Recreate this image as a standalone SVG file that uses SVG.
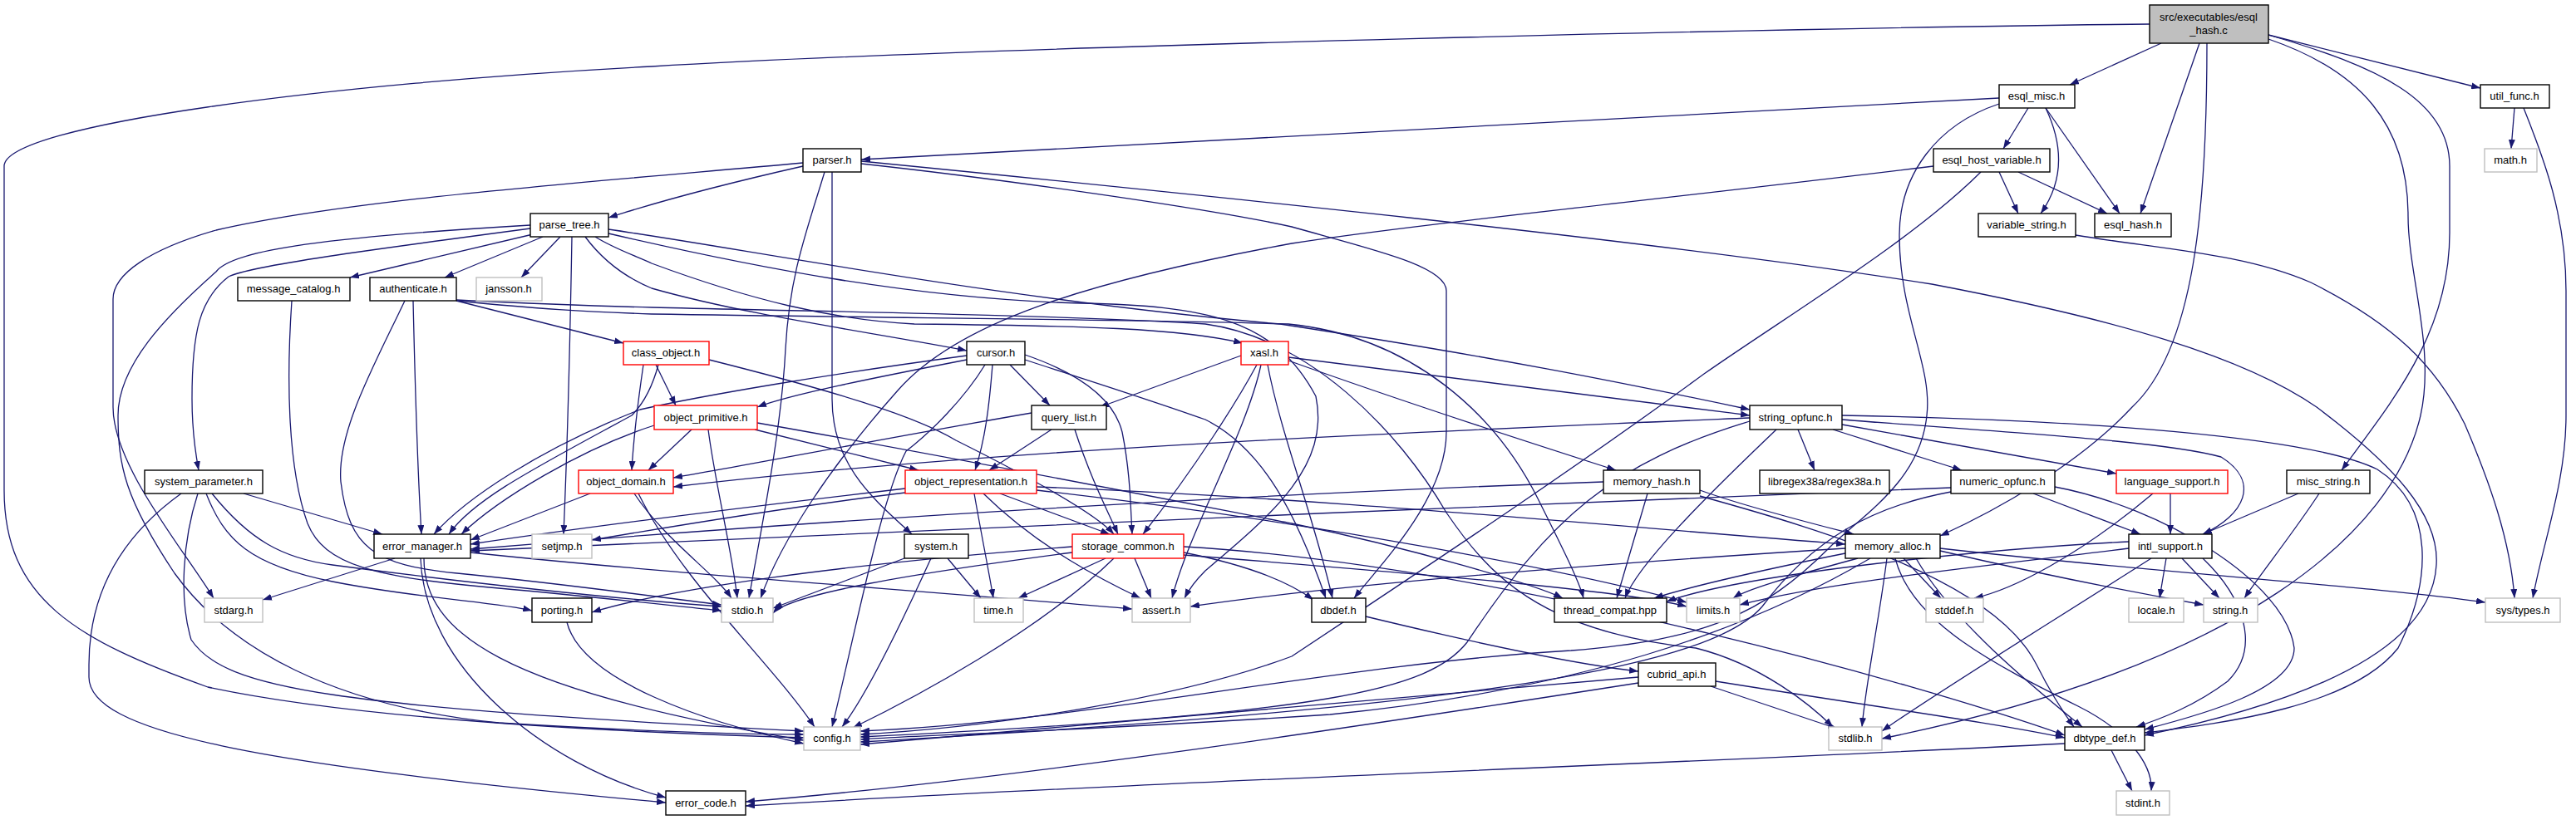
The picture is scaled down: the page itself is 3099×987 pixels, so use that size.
<svg xmlns="http://www.w3.org/2000/svg" width="3099" height="987" viewBox="0 0 3099 987">
<defs>
<marker id="ah" markerWidth="11" markerHeight="8" refX="11" refY="4" orient="auto" markerUnits="userSpaceOnUse"><path d="M0,0 L11,4 L0,8 z" fill="#191970"/></marker>
<style>
.e{fill:none;stroke:#191970;stroke-width:1.3;marker-end:url(#ah)}
.n rect{fill:#fff;stroke:#000;stroke-width:1.4}
.g rect{fill:#fff;stroke:#bfbfbf;stroke-width:1.4}
.r rect{fill:#fff;stroke:#ff0000;stroke-width:1.4}
.root rect{fill:#bfbfbf;stroke:#000;stroke-width:1.4}
text{font-family:"Liberation Sans",Arial,sans-serif;font-size:13px;text-anchor:middle;fill:#000}
</style>
</defs>
<rect width="3099" height="987" fill="#fff"/>
<g id="edges">
<path class="e" d="M2586,29 C2200,33 1200,55 784,80 C400,100 5,150 5,200 L5,590 C5,720 90,770 250,827 C450,870 800,883 967,888"/>
<path class="e" d="M2600,52 L2490,102"/>
<path class="e" d="M2646,52 L2575,257"/>
<path class="e" d="M2655,52 C2655,250 2640,420 2565,490 C2500,560 2400,615 2334,645"/>
<path class="e" d="M2729,42 L2984,106"/>
<path class="e" d="M2729,42 C2860,80 2947,120 2947,200 L2947,280 C2947,400 2880,480 2817,566"/>
<path class="e" d="M2729,47 C2840,85 2897,150 2897,260 C2897,330 2930,420 2912,500 C2880,640 2700,800 2264,889"/>
<path class="e" d="M2405,118 L1036,192"/>
<path class="e" d="M2440,130 L2410,179"/>
<path class="e" d="M2461,130 C2480,170 2485,215 2455,257"/>
<path class="e" d="M2461,130 L2550,257"/>
<path class="e" d="M2405,125 C2330,150 2285,210 2285,283 C2285,380 2325,440 2318,500 C2310,580 2240,620 2200,660 C2120,740 2050,770 1890,783 C1600,800 1300,870 1035,880"/>
<path class="e" d="M3025,130 L3021,179"/>
<path class="e" d="M3036,130 C3060,190 3087,260 3087,350 L3087,500 C3087,580 3060,650 3047,720"/>
<path class="e" d="M2405,207 L2428,257"/>
<path class="e" d="M2428,207 L2535,257"/>
<path class="e" d="M2383,207 C2300,290 2150,380 2050,450 C1900,560 1750,660 1554,790 C1420,840 1200,875 1035,884"/>
<path class="e" d="M2326,200 C2000,240 1700,270 1554,293 C1300,340 1150,390 1080,470 C1000,560 940,650 915,720"/>
<path class="e" d="M2497,283 C2600,300 2700,305 2780,340 C2880,390 2930,440 2965,510 C2995,580 3020,650 3025,720"/>
<path class="e" d="M966,200 C900,215 800,240 732,262"/>
<path class="e" d="M966,196 C700,220 420,240 260,277 C180,300 136,330 136,360 L136,490 C136,560 220,660 257,720"/>
<path class="e" d="M992,207 C970,280 950,330 945,420 C940,520 915,640 901,720"/>
<path class="e" d="M1001,207 L1001,480 C1001,560 1050,600 1097,643"/>
<path class="e" d="M1036,197 C1200,215 1450,250 1554,273 C1650,300 1740,320 1740,350 L1740,520 C1740,600 1660,680 1629,720"/>
<path class="e" d="M1036,194 C1400,230 2000,290 2324,342 C2550,385 2700,430 2787,490 C2880,560 2935,620 2931,680 C2925,790 2750,850 2580,885"/>
<path class="e" d="M641,282 L421,334"/>
<path class="e" d="M653,285 L535,334"/>
<path class="e" d="M674,285 L627,334"/>
<path class="e" d="M688,285 C686,400 682,550 678,643"/>
<path class="e" d="M638,275 C450,300 300,320 275,333 C240,360 231,400 231,480 C231,520 236,550 239,566"/>
<path class="e" d="M638,271 C400,285 280,300 260,327 C200,380 142,440 142,500 C142,560 150,600 210,690 C275,780 400,850 600,870 C800,882 900,884 967,884"/>
<path class="e" d="M704,285 C730,320 760,337 784,347 C900,380 1050,400 1163,422"/>
<path class="e" d="M716,285 C740,300 770,310 784,317 C900,360 1000,385 1100,390 C1300,392 1420,395 1495,413"/>
<path class="e" d="M732,276 C900,300 1200,360 1540,390 C1800,430 1950,460 2105,493"/>
<path class="e" d="M732,281 C900,320 1100,360 1300,365 C1450,368 1533,383 1583,477 C1600,560 1533,617 1450,687 C1440,697 1430,710 1425,720"/>
<path class="e" d="M351,362 C345,450 345,560 370,630 C390,680 450,695 600,708 C700,717 800,728 868,735"/>
<path class="e" d="M549,362 L750,413"/>
<path class="e" d="M497,362 C499,450 502,560 507,643"/>
<path class="e" d="M487,362 C450,440 405,520 410,580 C420,660 450,680 550,690 C700,705 800,720 868,728"/>
<path class="e" d="M549,361 C650,366 700,368 784,370 C1000,375 1300,380 1450,390 C1574,407 1682,517 1740,617 C1790,690 1850,760 2040,780 C2120,800 2180,850 2205,875"/>
<path class="e" d="M549,362 C650,372 700,375 784,378 C1100,383 1400,385 1550,390 C1700,405 1800,500 1850,600 C1880,660 1900,700 1905,720"/>
<path class="e" d="M774,439 C768,480 762,530 760,566"/>
<path class="e" d="M789,439 L813,488"/>
<path class="e" d="M853,433 C1000,470 1100,500 1150,530 C1250,580 1320,620 1340,643"/>
<path class="e" d="M792,439 C785,465 775,485 760,500 C650,560 570,600 540,643"/>
<path class="e" d="M1163,433 C1050,455 950,475 911,490"/>
<path class="e" d="M1215,439 L1263,488"/>
<path class="e" d="M1194,439 C1190,490 1185,530 1173,566"/>
<path class="e" d="M1185,439 C1160,480 1120,520 1090,543 C1060,600 1030,757 1001,875"/>
<path class="e" d="M1233,427 C1300,450 1340,480 1350,520 C1360,570 1360,610 1362,643"/>
<path class="e" d="M1163,428 C1000,450 850,475 770,493 C650,540 560,600 522,643"/>
<path class="e" d="M1233,433 C1300,455 1380,480 1450,505 C1520,540 1560,620 1595,720"/>
<path class="e" d="M1493,428 L1323,490"/>
<path class="e" d="M1512,439 C1490,480 1440,560 1375,643"/>
<path class="e" d="M1517,439 C1500,520 1430,640 1410,720"/>
<path class="e" d="M1550,430 C1800,460 1950,480 2105,500"/>
<path class="e" d="M1550,434 C1650,470 1800,520 1944,566"/>
<path class="e" d="M1525,439 C1540,520 1580,620 1603,720"/>
<path class="e" d="M832,517 L780,566"/>
<path class="e" d="M908,517 C1000,540 1080,560 1105,566"/>
<path class="e" d="M787,512 C700,540 600,600 555,643"/>
<path class="e" d="M852,517 C860,580 880,660 887,720"/>
<path class="e" d="M911,509 C1200,560 1500,620 1554,630 C1700,660 1850,705 1880,720"/>
<path class="e" d="M1241,497 C1050,530 900,560 810,575"/>
<path class="e" d="M1265,517 L1190,566"/>
<path class="e" d="M1293,517 C1310,570 1330,610 1345,643"/>
<path class="e" d="M2105,503 C1700,520 1200,540 810,586"/>
<path class="e" d="M2163,517 L2183,566"/>
<path class="e" d="M2205,517 L2360,566"/>
<path class="e" d="M2216,511 L2546,570"/>
<path class="e" d="M2216,505 C2400,520 2600,530 2672,550 C2720,580 2700,620 2650,643"/>
<path class="e" d="M2216,500 C2500,505 2780,525 2860,565 C2930,610 2925,700 2885,780 C2830,850 2680,870 2580,882"/>
<path class="e" d="M2137,517 C2050,600 1970,680 1955,720"/>
<path class="e" d="M2105,507 C1940,557 1865,623 1765,773 C1720,830 1600,860 1035,887"/>
<path class="e" d="M293,594 L460,643"/>
<path class="e" d="M255,594 C300,650 340,672 400,680 C550,700 750,722 868,730"/>
<path class="e" d="M248,594 C270,650 300,680 400,700 C500,720 600,725 640,735"/>
<path class="e" d="M238,594 C220,650 215,720 230,770 C270,830 400,850 967,880"/>
<path class="e" d="M218,594 C140,650 107,720 107,800 L107,815 C107,880 300,920 801,966"/>
<path class="e" d="M710,594 L566,650"/>
<path class="e" d="M763,594 C800,650 860,690 880,720"/>
<path class="e" d="M768,594 C820,700 930,800 980,875"/>
<path class="e" d="M1089,588 C900,610 700,635 566,655"/>
<path class="e" d="M1089,593 C950,610 800,635 712,650"/>
<path class="e" d="M1203,594 L1335,643"/>
<path class="e" d="M1172,594 C1180,640 1190,690 1195,720"/>
<path class="e" d="M1183,594 C1250,660 1330,700 1372,720"/>
<path class="e" d="M1247,586 C1600,600 1900,630 2220,655"/>
<path class="e" d="M1247,590 C1600,630 1900,690 2029,725"/>
<path class="e" d="M1982,594 L1945,720"/>
<path class="e" d="M2045,590 C2100,610 2180,630 2230,643"/>
<path class="e" d="M1929,580 C1500,595 1000,625 566,661"/>
<path class="e" d="M2045,597 C2200,640 2400,700 2450,800 C2470,840 2484,860 2495,875"/>
<path class="e" d="M2446,594 L2575,643"/>
<path class="e" d="M2472,586 C2600,610 2750,700 2760,780 C2760,830 2650,860 2580,878"/>
<path class="e" d="M2347,587 C1800,610 1000,640 566,663"/>
<path class="e" d="M2347,592 C2250,610 2180,650 2120,730 C2060,800 1800,850 1035,893"/>
<path class="e" d="M2611,594 L2611,643"/>
<path class="e" d="M2590,594 C2500,670 2420,710 2375,720"/>
<path class="e" d="M2765,594 L2650,643"/>
<path class="e" d="M2790,594 C2760,640 2720,690 2700,720"/>
<path class="e" d="M475,672 L316,722"/>
<path class="e" d="M510,672 C510,760 600,830 967,891"/>
<path class="e" d="M506,672 C510,800 650,920 801,960"/>
<path class="e" d="M566,665 C800,690 1100,710 1362,733"/>
<path class="e" d="M1088,672 L930,732"/>
<path class="e" d="M1140,672 L1180,720"/>
<path class="e" d="M1120,672 C1080,760 1040,840 1013,875"/>
<path class="e" d="M1290,665 C1100,690 950,715 930,738"/>
<path class="e" d="M1330,672 L1225,720"/>
<path class="e" d="M1365,672 L1385,720"/>
<path class="e" d="M1340,672 C1250,760 1100,840 1026,876"/>
<path class="e" d="M1424,665 C1500,680 1550,700 1580,722"/>
<path class="e" d="M1290,658 C1000,680 800,710 712,737"/>
<path class="e" d="M1424,658 C1800,680 2300,820 2484,885"/>
<path class="e" d="M1424,668 C1700,690 1950,710 2029,730"/>
<path class="e" d="M2220,666 C2100,690 2020,710 1990,720"/>
<path class="e" d="M2235,672 C2150,695 2100,710 2085,720"/>
<path class="e" d="M2290,672 L2335,720"/>
<path class="e" d="M2270,672 C2260,750 2245,820 2240,875"/>
<path class="e" d="M2305,672 C2350,750 2450,830 2505,875"/>
<path class="e" d="M2280,672 C2300,750 2400,800 2500,850 C2560,880 2590,920 2588,952"/>
<path class="e" d="M2334,663 C2450,690 2550,710 2651,728"/>
<path class="e" d="M2334,660 C2600,690 2850,705 2990,725"/>
<path class="e" d="M2250,672 C2100,760 1900,830 1600,860 C1300,880 1100,885 1035,890"/>
<path class="e" d="M2220,660 C1900,680 1600,705 1432,730"/>
<path class="e" d="M2606,672 L2598,720"/>
<path class="e" d="M2625,672 L2670,720"/>
<path class="e" d="M2588,672 C2450,760 2320,840 2264,880"/>
<path class="e" d="M2650,672 C2700,720 2720,780 2680,820 C2640,850 2600,865 2570,875"/>
<path class="e" d="M2561,660 C2400,680 2200,700 2093,728"/>
<path class="e" d="M2561,652 C2400,660 2100,690 2005,724"/>
<path class="e" d="M1643,742 C1800,780 1900,800 1971,808"/>
<path class="e" d="M1971,815 C1600,850 1300,875 1035,896"/>
<path class="e" d="M2058,826 L2210,877"/>
<path class="e" d="M2064,820 C2250,850 2400,870 2484,888"/>
<path class="e" d="M1971,822 C1600,880 1200,940 897,965"/>
<path class="e" d="M682,749 C700,820 850,870 967,895"/>
<path class="e" d="M2540,903 L2565,952"/>
<path class="e" d="M2484,895 C2000,920 1400,940 897,970"/>
</g>
<g id="n_root" class="root"><rect x="2586" y="6" width="143" height="46"/><text x="2657" y="25">src/executables/esql</text><text x="2657" y="41">_hash.c</text></g>
<g id="n_esql_misc" class="n"><rect x="2405" y="102" width="91" height="28"/><text x="2450" y="120">esql_misc.h</text></g>
<g id="n_util_func" class="n"><rect x="2984" y="102" width="83" height="28"/><text x="3025" y="120">util_func.h</text></g>
<g id="n_parser" class="n"><rect x="966" y="179" width="70" height="28"/><text x="1001" y="197">parser.h</text></g>
<g id="n_esql_host_variable" class="n"><rect x="2326" y="179" width="140" height="28"/><text x="2396" y="197">esql_host_variable.h</text></g>
<g id="n_math" class="g"><rect x="2989" y="179" width="63" height="28"/><text x="3020" y="197">math.h</text></g>
<g id="n_parse_tree" class="n"><rect x="638" y="257" width="94" height="28"/><text x="685" y="275">parse_tree.h</text></g>
<g id="n_variable_string" class="n"><rect x="2380" y="257" width="117" height="28"/><text x="2438" y="275">variable_string.h</text></g>
<g id="n_esql_hash" class="n"><rect x="2520" y="257" width="92" height="28"/><text x="2566" y="275">esql_hash.h</text></g>
<g id="n_message_catalog" class="n"><rect x="286" y="334" width="135" height="28"/><text x="353" y="352">message_catalog.h</text></g>
<g id="n_authenticate" class="n"><rect x="445" y="334" width="104" height="28"/><text x="497" y="352">authenticate.h</text></g>
<g id="n_jansson" class="g"><rect x="573" y="334" width="79" height="28"/><text x="612" y="352">jansson.h</text></g>
<g id="n_class_object" class="r"><rect x="750" y="411" width="103" height="28"/><text x="801" y="429">class_object.h</text></g>
<g id="n_cursor" class="n"><rect x="1163" y="411" width="70" height="28"/><text x="1198" y="429">cursor.h</text></g>
<g id="n_xasl" class="r"><rect x="1493" y="411" width="57" height="28"/><text x="1521" y="429">xasl.h</text></g>
<g id="n_object_primitive" class="r"><rect x="787" y="488" width="124" height="29"/><text x="849" y="507">object_primitive.h</text></g>
<g id="n_query_list" class="n"><rect x="1241" y="488" width="90" height="29"/><text x="1286" y="507">query_list.h</text></g>
<g id="n_string_opfunc" class="n"><rect x="2105" y="488" width="111" height="29"/><text x="2160" y="507">string_opfunc.h</text></g>
<g id="n_system_parameter" class="n"><rect x="174" y="566" width="142" height="28"/><text x="245" y="584">system_parameter.h</text></g>
<g id="n_object_domain" class="r"><rect x="696" y="566" width="114" height="28"/><text x="753" y="584">object_domain.h</text></g>
<g id="n_object_representation" class="r"><rect x="1089" y="566" width="158" height="28"/><text x="1168" y="584">object_representation.h</text></g>
<g id="n_memory_hash" class="n"><rect x="1929" y="566" width="116" height="28"/><text x="1987" y="584">memory_hash.h</text></g>
<g id="n_libregex" class="n"><rect x="2117" y="566" width="156" height="28"/><text x="2195" y="584">libregex38a/regex38a.h</text></g>
<g id="n_numeric_opfunc" class="n"><rect x="2347" y="566" width="125" height="28"/><text x="2409" y="584">numeric_opfunc.h</text></g>
<g id="n_language_support" class="r"><rect x="2546" y="566" width="134" height="28"/><text x="2613" y="584">language_support.h</text></g>
<g id="n_misc_string" class="n"><rect x="2751" y="566" width="100" height="28"/><text x="2801" y="584">misc_string.h</text></g>
<g id="n_error_manager" class="n"><rect x="450" y="643" width="116" height="29"/><text x="508" y="662">error_manager.h</text></g>
<g id="n_setjmp" class="g"><rect x="640" y="643" width="72" height="29"/><text x="676" y="662">setjmp.h</text></g>
<g id="n_system" class="n"><rect x="1088" y="643" width="77" height="29"/><text x="1126" y="662">system.h</text></g>
<g id="n_storage_common" class="r"><rect x="1290" y="643" width="134" height="29"/><text x="1357" y="662">storage_common.h</text></g>
<g id="n_memory_alloc" class="n"><rect x="2220" y="643" width="114" height="29"/><text x="2277" y="662">memory_alloc.h</text></g>
<g id="n_intl_support" class="n"><rect x="2561" y="643" width="100" height="29"/><text x="2611" y="662">intl_support.h</text></g>
<g id="n_stdarg" class="g"><rect x="246" y="720" width="70" height="29"/><text x="281" y="739">stdarg.h</text></g>
<g id="n_porting" class="n"><rect x="640" y="720" width="72" height="29"/><text x="676" y="739">porting.h</text></g>
<g id="n_stdio" class="g"><rect x="868" y="720" width="62" height="29"/><text x="899" y="739">stdio.h</text></g>
<g id="n_time" class="g"><rect x="1172" y="720" width="59" height="29"/><text x="1201" y="739">time.h</text></g>
<g id="n_assert" class="g"><rect x="1362" y="720" width="70" height="29"/><text x="1397" y="739">assert.h</text></g>
<g id="n_dbdef" class="n"><rect x="1578" y="720" width="65" height="29"/><text x="1610" y="739">dbdef.h</text></g>
<g id="n_thread_compat" class="n"><rect x="1870" y="720" width="135" height="29"/><text x="1937" y="739">thread_compat.hpp</text></g>
<g id="n_limits" class="g"><rect x="2029" y="720" width="64" height="29"/><text x="2061" y="739">limits.h</text></g>
<g id="n_stddef" class="g"><rect x="2317" y="720" width="69" height="29"/><text x="2351" y="739">stddef.h</text></g>
<g id="n_locale" class="g"><rect x="2561" y="720" width="66" height="29"/><text x="2594" y="739">locale.h</text></g>
<g id="n_string" class="g"><rect x="2651" y="720" width="65" height="29"/><text x="2683" y="739">string.h</text></g>
<g id="n_sys_types" class="g"><rect x="2990" y="720" width="90" height="29"/><text x="3035" y="739">sys/types.h</text></g>
<g id="n_cubrid_api" class="n"><rect x="1971" y="798" width="93" height="28"/><text x="2017" y="816">cubrid_api.h</text></g>
<g id="n_config" class="g"><rect x="967" y="875" width="68" height="28"/><text x="1001" y="893">config.h</text></g>
<g id="n_stdlib" class="g"><rect x="2200" y="875" width="64" height="28"/><text x="2232" y="893">stdlib.h</text></g>
<g id="n_dbtype_def" class="n"><rect x="2484" y="875" width="96" height="28"/><text x="2532" y="893">dbtype_def.h</text></g>
<g id="n_error_code" class="n"><rect x="801" y="952" width="96" height="29"/><text x="849" y="971">error_code.h</text></g>
<g id="n_stdint" class="g"><rect x="2546" y="952" width="64" height="29"/><text x="2578" y="971">stdint.h</text></g>
</svg>
